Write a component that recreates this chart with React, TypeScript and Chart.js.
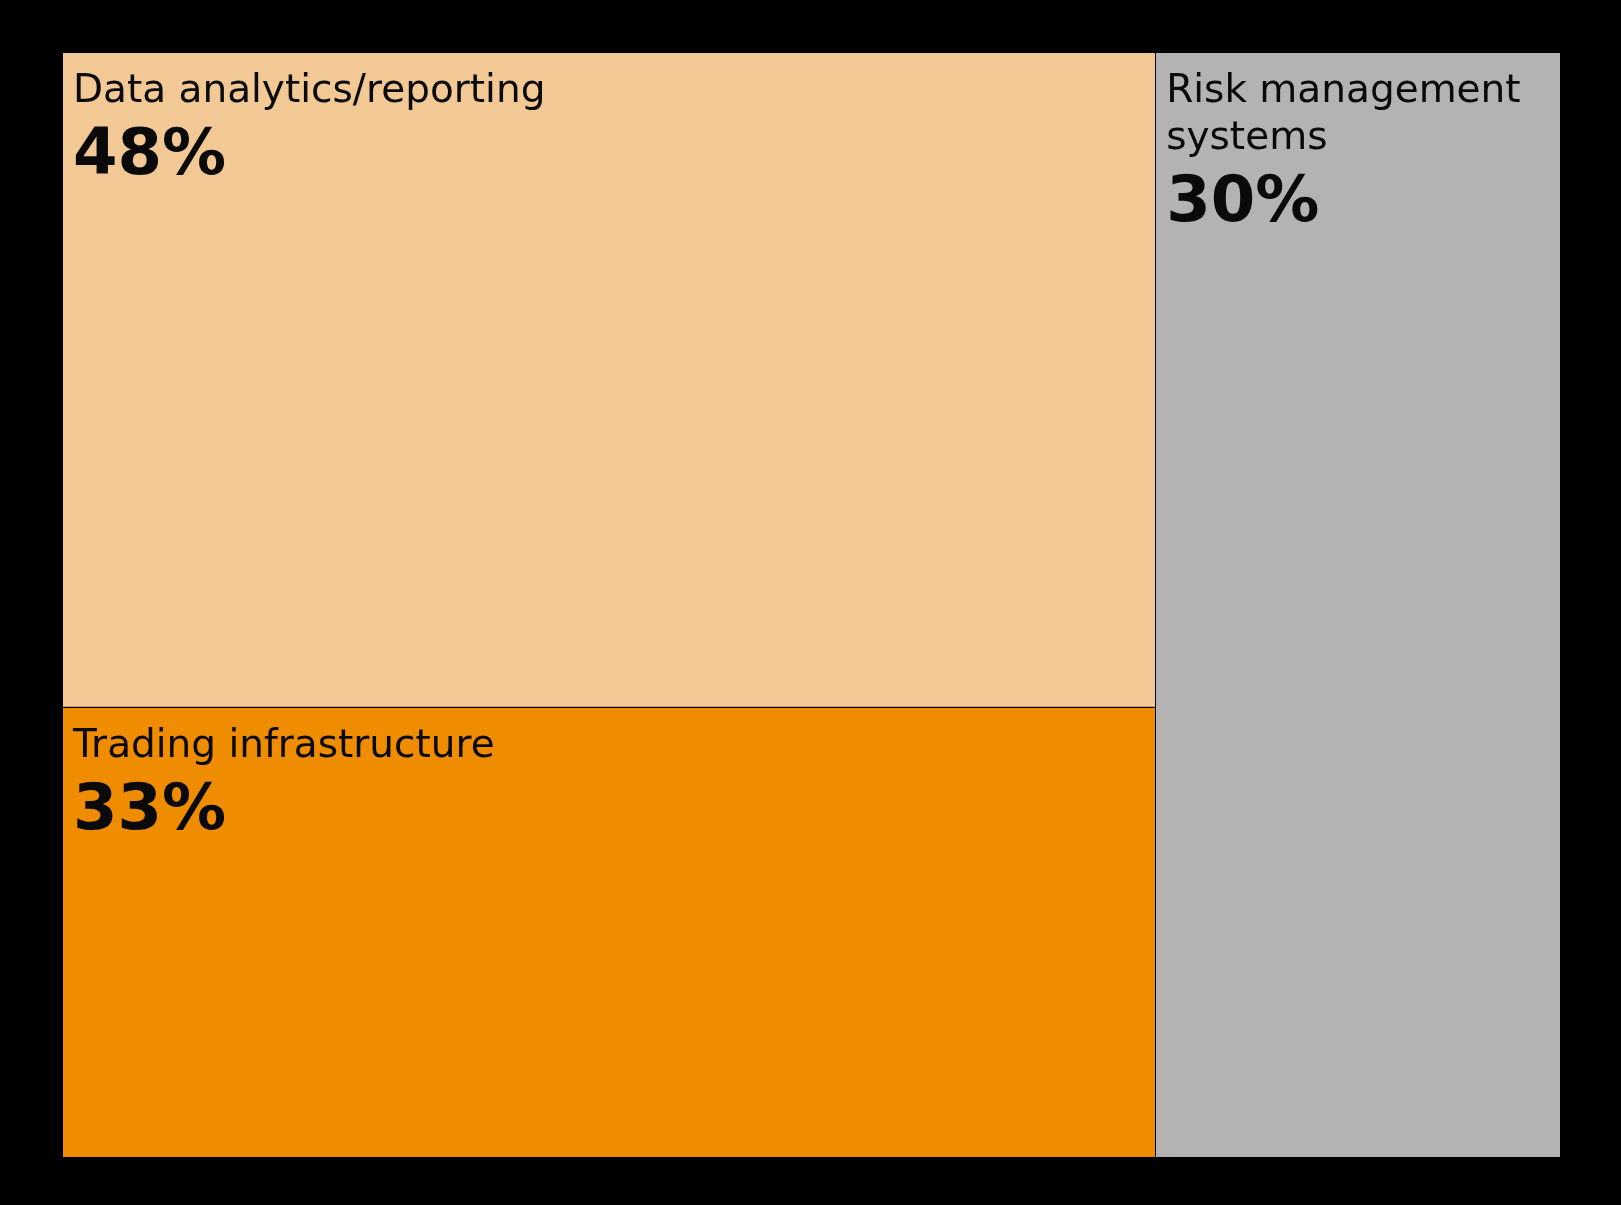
import React, { useEffect, useRef } from "react";
import { Chart, registerables } from "chart.js";

Chart.register(...registerables);

const categories = ["Data analytics/reporting", "Trading infrastructure", "Risk management systems"];
const shares = [48, 33, 30];
const palette = ["#F2C995", "#EF8C00", "#B3B3B3"];

type Cell = { i: number; x0: number; y0: number; x1: number; y1: number };

// d3-style squarify (ratio 1) computed in data space
function squarify(values: number[], x0: number, y0: number, x1: number, y1: number): Cell[] {
  const out: Cell[] = [];
  const n = values.length;
  let value = values.reduce((a, b) => a + b, 0);
  let i0 = 0;
  let i1 = 0;
  while (i0 < n) {
    const dx = x1 - x0;
    const dy = y1 - y0;
    let sumValue = values[i1++];
    let minValue = sumValue;
    let maxValue = sumValue;
    const alpha = Math.max(dy / dx, dx / dy) / value;
    let beta = sumValue * sumValue * alpha;
    let minRatio = Math.max(maxValue / beta, beta / minValue);
    for (; i1 < n; ++i1) {
      const nv = values[i1];
      sumValue += nv;
      if (nv < minValue) minValue = nv;
      if (nv > maxValue) maxValue = nv;
      beta = sumValue * sumValue * alpha;
      const newRatio = Math.max(maxValue / beta, beta / minValue);
      if (newRatio > minRatio) {
        sumValue -= nv;
        break;
      }
      minRatio = newRatio;
    }
    const dice = dx < dy;
    if (dice) {
      const yb = value ? y0 + (dy * sumValue) / value : y1;
      let cx = x0;
      for (let k = i0; k < i1; k++) {
        const w = (dx * values[k]) / sumValue;
        out.push({ i: k, x0: cx, y0: y0, x1: cx + w, y1: yb });
        cx += w;
      }
      y0 = yb;
    } else {
      const xb = value ? x0 + (dx * sumValue) / value : x1;
      let cy = y0;
      for (let k = i0; k < i1; k++) {
        const h = (dy * values[k]) / sumValue;
        out.push({ i: k, x0: x0, y0: cy, x1: xb, y1: cy + h });
        cy += h;
      }
      x0 = xb;
    }
    value -= sumValue;
    i0 = i1;
  }
  return out;
}

function wrap(ctx: CanvasRenderingContext2D, text: string, maxW: number): string[] {
  const words = text.split(" ");
  const lines: string[] = [];
  let cur = "";
  for (const w of words) {
    const t = cur ? cur + " " + w : w;
    if (ctx.measureText(t).width > maxW && cur) {
      lines.push(cur);
      cur = w;
    } else cur = t;
  }
  if (cur) lines.push(cur);
  return lines;
}

const treemapPlugin = {
  id: "treemapCells",
  beforeDraw(chart: any) {
    const { ctx } = chart;
    ctx.save();
    ctx.fillStyle = "#000000";
    ctx.fillRect(0, 0, chart.width, chart.height);
    ctx.restore();
  },
  afterDatasetsDraw(chart: any) {
    const { ctx, scales } = chart;
    const xs = scales.x;
    const ys = scales.y;
    const cells = squarify(shares, 0, 0, 1, 1);
    ctx.save();
    for (const c of cells) {
      const px0 = xs.getPixelForValue(c.x0);
      const px1 = xs.getPixelForValue(c.x1);
      const py0 = ys.getPixelForValue(c.y0);
      const py1 = ys.getPixelForValue(c.y1);
      ctx.fillStyle = palette[c.i];
      ctx.fillRect(px0, py0, px1 - px0, py1 - py0);
    }
    ctx.strokeStyle = "#000000";
    ctx.lineWidth = 1;
    for (const c of cells) {
      const px0 = xs.getPixelForValue(c.x0);
      const px1 = xs.getPixelForValue(c.x1);
      const py0 = ys.getPixelForValue(c.y0);
      const py1 = ys.getPixelForValue(c.y1);
      ctx.strokeRect(Math.round(px0) + 0.5, Math.round(py0) + 0.5, Math.round(px1 - px0), Math.round(py1 - py0));
    }
    for (const c of cells) {
      const px0 = xs.getPixelForValue(c.x0);
      const px1 = xs.getPixelForValue(c.x1);
      const py0 = ys.getPixelForValue(c.y0);
      const left = px0 + 11;
      ctx.fillStyle = "#0a0a0a";
      ctx.textBaseline = "alphabetic";
      ctx.textAlign = "left";
      ctx.font = "39px 'DejaVu Sans'";
      const lines = wrap(ctx, categories[c.i], px1 - px0 - 24);
      let base = py0 + 50;
      lines.forEach((ln, k) => {
        ctx.fillText(ln, left, base);
        if (k < lines.length - 1) base += 47;
      });
      ctx.font = "bold 64px 'DejaVu Sans'";
      ctx.fillText(shares[c.i] + "%", left, base + 72);
    }
    ctx.restore();
  },
};

export default function App() {
  const ref = useRef<HTMLCanvasElement | null>(null);
  useEffect(() => {
    document.body.style.margin = "0";
    document.body.style.background = "#000000";
    const canvas = ref.current;
    if (!canvas) return;
    const chart = new Chart(canvas, {
      type: "scatter",
      data: {
        datasets: [{ label: "Share", data: [] }],
      },
      options: {
        animation: false,
        responsive: false,
        maintainAspectRatio: false,
        layout: { padding: { left: 62, top: 52, right: 61, bottom: 48 } },
        plugins: { legend: { display: false }, tooltip: { enabled: false } },
        scales: {
          x: { type: "linear", min: 0, max: 1, display: false },
          y: { type: "linear", min: 0, max: 1, reverse: true, display: false },
        },
      },
      plugins: [treemapPlugin],
    });
    return () => chart.destroy();
  }, []);
  return (
    <div style={{ width: 1621, height: 1205, background: "#000" }}>
      <canvas ref={ref} width={1621} height={1205} style={{ display: "block" }} />
    </div>
  );
}
